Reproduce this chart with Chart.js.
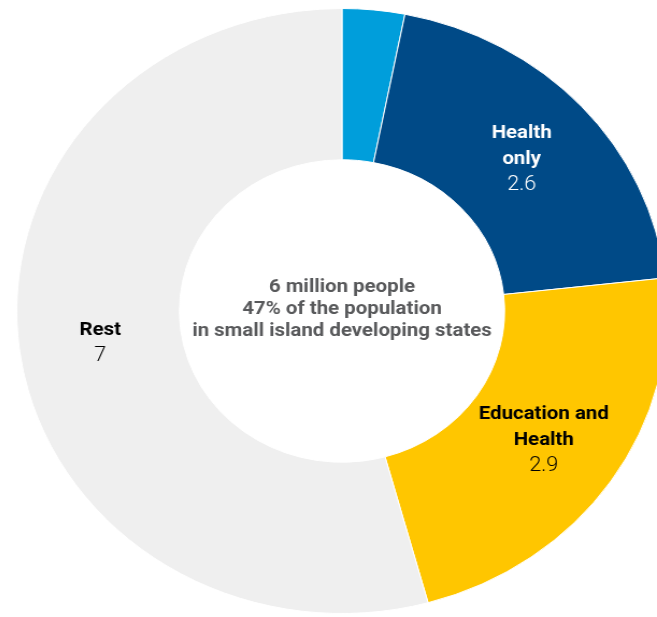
<!DOCTYPE html>
<html>
<head>
<meta charset="utf-8">
<title>Small island developing states</title>
<script src="https://cdn.jsdelivr.net/npm/chart.js@4.4.1/dist/chart.umd.min.js"></script>
<style>
    html, body {
        margin: 0;
        padding: 0;
        width: 657px;
        height: 617px;
        overflow: hidden;
        background: #ffffff;
    }
    #sidsChart {
        position: absolute;
        left: 39px;
        top: 8px;
        transform: scaleX(1.075);
        transform-origin: 303px 303px;
    }
</style>
</head>
<body>
<canvas id="sidsChart" width="606" height="606"></canvas>
<script>
const categories = ['Education only', 'Health only', 'Education and Health', 'Rest'];
const labelLines = [[], ['Health', 'only'], ['Education and', 'Health'], ['Rest']];
const valueTexts = ['', '2.6', '2.9', '7'];
const peopleMillions = [0.4, 2.6, 2.9, 7];
const centerLines = ['6 million people', '47% of the population', 'in small island developing states'];

const sliceColors = ['#009edb', '#004a87', '#ffc600', '#efefef'];
const labelColors = ['#ffffff', '#ffffff', '#000000', '#000000'];

(function () {
    const sliceLabels = {
        id: 'sliceLabels',
        afterDatasetsDraw(chart) {
            const ctx = chart.ctx;
            const meta = chart.getDatasetMeta(0);
            ctx.save();
            ctx.textAlign = 'center';
            ctx.textBaseline = 'alphabetic';

            meta.data.forEach(function (arc, i) {
                const lines = labelLines[i];
                if (!lines.length) {
                    return;
                }
                const p = arc.getProps(['x', 'y', 'startAngle', 'endAngle', 'innerRadius', 'outerRadius'], true);
                const mid = (p.startAngle + p.endAngle) / 2;
                const r = (p.innerRadius + p.outerRadius) / 2;
                const cx = p.x + Math.cos(mid) * r;
                const cy = p.y + Math.sin(mid) * r;
                const n = lines.length + 1;
                const lineH = 26;
                ctx.fillStyle = labelColors[i];

                lines.forEach(function (text, j) {
                    ctx.font = 'bold 19px Roboto';
                    ctx.fillText(text, cx, cy + (j - (n - 1) / 2) * lineH + 6.8);
                });
                ctx.font = '300 20px Roboto';
                ctx.fillText(valueTexts[i], cx, cy + (lines.length - (n - 1) / 2) * lineH + 6.8);
            });

            // text in the hole
            const first = meta.data[0];
            if (first) {
                ctx.font = 'bold 19px Roboto';
                ctx.fillStyle = '#58595b';
                centerLines.forEach(function (text, j) {
                    ctx.fillText(text, first.x, first.y + (j - 1) * 22 + 2.7);
                });
            }
            ctx.restore();
        }
    };

    new Chart(document.getElementById('sidsChart'), {
        type: 'doughnut',
        data: {
            labels: categories,
            datasets: [{
                data: peopleMillions,
                backgroundColor: sliceColors,
                borderColor: '#ffffff',
                borderWidth: 1
            }]
        },
        options: {
            responsive: false,
            devicePixelRatio: 1,
            animation: false,
            cutout: '50%',
            layout: { padding: 0 },
            plugins: {
                legend: { display: false },
                tooltip: { enabled: false }
            }
        },
        plugins: [sliceLabels]
    });
})();
</script>
</body>
</html>
